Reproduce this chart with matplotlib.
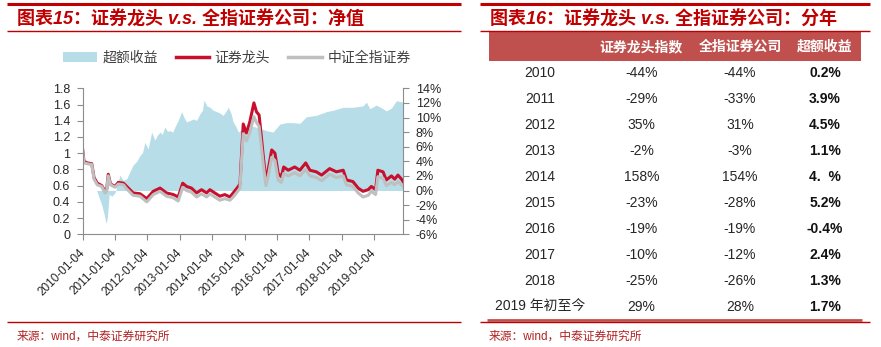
import matplotlib
matplotlib.use('Agg')
import matplotlib.pyplot as plt
from matplotlib.lines import Line2D
from matplotlib.patches import Rectangle, Patch

plt.rcParams['font.family'] = ['Liberation Sans', 'Noto Sans CJK SC', 'DejaVu Sans']

# ---------------- data ----------------
# time in years since 2010-01-04
line_t = [0.00, 0.04, 0.14, 0.28, 0.35, 0.45, 0.59, 0.69, 0.74, 0.79, 0.86, 1.00,
          1.10, 1.26, 1.36, 1.56, 1.77, 1.98, 2.18, 2.39, 2.59, 2.80, 2.95, 3.09,
          3.21, 3.36, 3.52, 3.67, 3.83, 3.93, 4.08, 4.24, 4.39, 4.55, 4.65, 4.77,
          4.86, 4.91, 4.96, 5.06, 5.16, 5.29, 5.37, 5.45, 5.52, 5.58, 5.66, 5.73,
          5.84, 5.94, 6.04, 6.14, 6.21, 6.35, 6.55, 6.71, 6.89, 7.02, 7.22, 7.38,
          7.63, 7.84, 8.05, 8.15, 8.35, 8.51, 8.66, 8.82, 8.92, 9.05, 9.12, 9.28,
          9.38, 9.54, 9.64, 9.74, 9.85, 9.90]
leader = [1.04, 0.90, 0.88, 0.87, 0.70, 0.63, 0.60, 0.53, 0.55, 0.74, 0.62, 0.59,
          0.64, 0.63, 0.59, 0.51, 0.50, 0.44, 0.53, 0.57, 0.51, 0.49, 0.46, 0.63,
          0.59, 0.57, 0.51, 0.55, 0.51, 0.55, 0.51, 0.47, 0.49, 0.46, 0.51, 0.57,
          0.62, 1.00, 1.36, 1.25, 1.38, 1.62, 1.51, 1.47, 1.20, 0.96, 0.67, 0.79,
          1.04, 1.00, 0.75, 0.71, 0.83, 0.79, 0.83, 0.79, 0.88, 0.79, 0.77, 0.73,
          0.81, 0.77, 0.79, 0.67, 0.65, 0.57, 0.53, 0.55, 0.59, 0.55, 0.79, 0.77,
          0.67, 0.72, 0.68, 0.73, 0.68, 0.65]
all_sec = [1.02, 0.88, 0.87, 0.86, 0.68, 0.61, 0.59, 0.51, 0.53, 0.72, 0.61, 0.58,
           0.62, 0.61, 0.56, 0.48, 0.47, 0.40, 0.49, 0.53, 0.47, 0.45, 0.41, 0.58,
           0.54, 0.52, 0.46, 0.50, 0.46, 0.50, 0.46, 0.42, 0.44, 0.42, 0.46, 0.52,
           0.57, 0.92, 1.24, 1.15, 1.25, 1.45, 1.38, 1.33, 1.08, 0.86, 0.60, 0.71,
           0.95, 0.91, 0.67, 0.64, 0.75, 0.72, 0.76, 0.72, 0.80, 0.72, 0.70, 0.66,
           0.74, 0.70, 0.72, 0.61, 0.59, 0.51, 0.46, 0.48, 0.53, 0.49, 0.71, 0.69,
           0.60, 0.64, 0.61, 0.65, 0.61, 0.59]

area_t = [0.00, 0.43, 0.51, 0.59, 0.66, 0.72, 0.76, 0.82, 0.90, 1.00, 1.08, 1.15,
          1.25, 1.36, 1.46, 1.56, 1.67, 1.77, 1.85, 1.92, 2.02, 2.13, 2.23, 2.31,
          2.39, 2.46, 2.54, 2.62, 2.70, 2.78, 2.85, 2.95, 3.06, 3.13, 3.21, 3.32,
          3.42, 3.52, 3.62, 3.70, 3.75, 3.83, 3.93, 4.03, 4.14, 4.24, 4.34, 4.42,
          4.50, 4.58, 4.65, 4.73, 4.81, 4.86, 5.06, 5.27, 5.47, 5.68, 5.88, 6.09,
          6.30, 6.50, 6.71, 6.91, 7.22, 7.53, 7.74, 8.05, 8.35, 8.66, 8.77, 8.87,
          9.07, 9.28, 9.38, 9.54, 9.69, 9.90]
excess = [0.0, 0.0, -1.0, -2.0, -3.2, -4.5, -3.8, -0.5, -0.8, -0.3, 1.0, 2.1,
          1.4, 1.6, 2.6, 3.5, 4.0, 4.8, 5.2, 6.6, 5.7, 8.0, 6.9, 7.6,
          8.0, 7.7, 8.7, 8.1, 8.2, 8.0, 8.7, 9.6, 10.8, 10.0, 9.4, 9.6,
          9.8, 9.6, 10.5, 11.0, 12.4, 11.6, 11.4, 11.0, 10.8, 10.6, 10.3, 10.8,
          11.4, 10.6, 9.4, 8.8, 8.0, 8.2, 8.5, 8.8, 8.5, 8.2, 8.0, 9.1,
          9.3, 9.3, 9.2, 10.1, 10.3, 10.8, 11.0, 11.4, 11.4, 11.6, 12.1, 11.2,
          11.7, 11.2, 10.9, 11.3, 12.3, 12.1]

xtick_labels = ['2010-01-04', '2011-01-04', '2012-01-04', '2013-01-04', '2014-01-04',
                '2015-01-04', '2016-01-04', '2017-01-04', '2018-01-04', '2019-01-04']
left_ticks = [0, 0.2, 0.4, 0.6, 0.8, 1.0, 1.2, 1.4, 1.6, 1.8]
left_labels = ['0', '0.2', '0.4', '0.6', '0.8', '1', '1.2', '1.4', '1.6', '1.8']
right_ticks = [-6, -4, -2, 0, 2, 4, 6, 8, 10, 12, 14]
legend_labels = ['超额收益', '证券龙头', '中证全指证券']

tbl_header = ['证券龙头指数', '全指证券公司', '超额收益']
tbl_years = ['2010', '2011', '2012', '2013', '2014', '2015', '2016', '2017', '2018',
             '2019 年初至今']
tbl_leader = ['-44%', '-29%', '35%', '-2%', '158%', '-23%', '-19%', '-10%', '-25%', '29%']
tbl_all = ['-44%', '-33%', '31%', '-3%', '154%', '-28%', '-19%', '-12%', '-26%', '28%']
tbl_excess = ['0.2%', '3.9%', '4.5%', '1.1%', '4.  %', '5.2%', '-0.4%', '2.4%', '1.3%',
              '1.7%']

title_left = '图表15：证券龙头 v.s. 全指证券公司：净值'
title_right = '图表16：证券龙头 v.s. 全指证券公司：分年'
source = '来源：wind，中泰证券研究所'

# ---------------- styles ----------------
RED = '#C8102E'
GRAY = '#BFBFBF'
BLUE = '#B7DEE8'
DARKRED = '#C00000'
HEAD = '#C0504D'
AXC = '#8C8C8C'
TXT = '#262626'

W, H = 881, 347
fig = plt.figure(figsize=(W / 100, H / 100), dpi=100)


def fx(x):
    return x / W


def fy(y):
    return 1 - y / H


def hline(x0, x1, y, lw, color):
    fig.add_artist(Line2D([fx(x0), fx(x1)], [fy(y), fy(y)], transform=fig.transFigure,
                          color=color, lw=lw, solid_capstyle='butt'))


# ---------------- left chart ----------------
ax = fig.add_axes([fx(82.7), fy(234.3), (403.3 - 82.7) / W, (234.3 - 88.3) / H])
ax2 = ax.twinx()
ax2.fill_between(area_t, 0, excess, color=BLUE, lw=0)
ax.plot(line_t, leader, color=RED, lw=2.2, solid_joinstyle='round')
ax.plot(line_t, all_sec, color=GRAY, lw=2.2, solid_joinstyle='round')
ax.set_zorder(ax2.get_zorder() + 1)
ax.patch.set_visible(False)

ax.set_xlim(0, 9.906)
ax.set_ylim(0, 1.8)
ax2.set_ylim(-6, 14)
ax.set_xticks(range(len(xtick_labels)))
ax.set_xticklabels(xtick_labels, rotation=45, ha='right', va='center',
                   rotation_mode='anchor')
ax.set_yticks(left_ticks)
ax.set_yticklabels(left_labels)
ax2.set_yticks(right_ticks)
ax2.set_yticklabels([f'{v}%' for v in right_ticks])

for a in (ax, ax2):
    for s in a.spines.values():
        s.set_color(AXC)
        s.set_linewidth(0.8)
    a.spines['top'].set_visible(False)
ax.spines['right'].set_visible(False)
ax2.spines['left'].set_visible(False)
ax2.spines['bottom'].set_visible(False)
ax.tick_params(axis='y', length=4, width=0.8, color=AXC, labelsize=9, labelcolor=TXT, pad=5)
ax.tick_params(axis='x', length=4, width=0.8, color=AXC, labelsize=8.5, labelcolor=TXT, pad=8)
ax2.tick_params(axis='y', length=4, width=0.8, color=AXC, labelsize=9, labelcolor=TXT, pad=5)

handles = [Patch(facecolor=BLUE, edgecolor='none'),
           Line2D([], [], color=RED, lw=2.5),
           Line2D([], [], color=GRAY, lw=2.5)]
leg = fig.legend(handles, legend_labels, loc='center', bbox_to_anchor=(fx(237), fy(58)),
                 ncol=3, frameon=False, fontsize=10, handlelength=2.4, handletextpad=0.4,
                 columnspacing=1.3)
for t in leg.get_texts():
    t.set_color('#404040')

# titles and rules
hline(7, 461, 4, 2.2, DARKRED)
hline(7, 461, 31, 1.0, DARKRED)
hline(480, 870, 4, 2.2, DARKRED)
hline(480, 870, 31, 1.0, DARKRED)
fig.text(fx(17), fy(20), title_left, fontsize=13, fontweight='bold', style='italic',
         color=DARKRED, va='center', ha='left')
fig.text(fx(490), fy(20), title_right, fontsize=13, fontweight='bold', style='italic',
         color=DARKRED, va='center', ha='left')

hline(7, 461, 322, 1.0, DARKRED)
hline(480, 870, 322, 1.0, DARKRED)
fig.text(fx(17), fy(337), source, fontsize=8.5, color='#B22222', va='center', ha='left')
fig.text(fx(489), fy(337), source, fontsize=8.5, color='#B22222', va='center', ha='left')

# ---------------- right table ----------------
fig.add_artist(Rectangle((fx(488.7), fy(61)), (860.7 - 488.7) / W, (61 - 31.5) / H,
                         transform=fig.transFigure, facecolor=HEAD, edgecolor='none'))
col_x = [540, 641.5, 740, 825]
for cx, lab in zip(col_x[1:], tbl_header):
    fig.text(fx(cx), fy(47), lab, fontsize=10, fontweight='bold', color='white',
             ha='center', va='center')
for i in range(len(tbl_years)):
    yy = 73.3 + 26.0 * i
    fig.text(fx(col_x[0]), fy(yy), tbl_years[i], fontsize=10, color=TXT, ha='center', va='center')
    fig.text(fx(col_x[1]), fy(yy), tbl_leader[i], fontsize=10, color=TXT, ha='center', va='center')
    fig.text(fx(col_x[2]), fy(yy), tbl_all[i], fontsize=10, color=TXT, ha='center', va='center')
    fig.text(fx(col_x[3]), fy(yy), tbl_excess[i], fontsize=10, fontweight='bold', color='#111111',
             ha='center', va='center')
hline(487, 862, 320, 2.0, HEAD)

fig.savefig('out.png', dpi=100)
